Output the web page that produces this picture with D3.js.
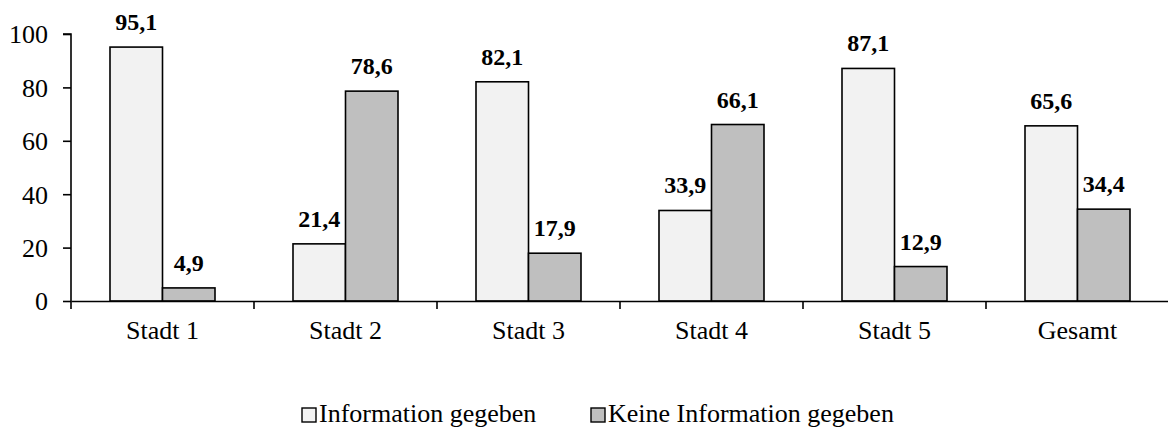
<!DOCTYPE html>
<html>
<head>
<meta charset="utf-8">
<script src="https://cdn.jsdelivr.net/npm/d3@7"></script>
<style>
  body { margin: 0; background: #fff; }
  svg text { font-family: "Liberation Serif", "Times New Roman", serif !important; fill: #000; }
</style>
</head>
<body>
<svg></svg>
<script>
const categories = ["Stadt 1", "Stadt 2", "Stadt 3", "Stadt 4", "Stadt 5", "Gesamt"];
const seriesNames = ["Information gegeben", "Keine Information gegeben"];
const infoGiven = [95.1, 21.4, 82.1, 33.9, 87.1, 65.6];
const noInfo = [4.9, 78.6, 17.9, 66.1, 12.9, 34.4];
const yTicks = [0, 20, 40, 60, 80, 100];
const colors = ["#f2f2f2", "#bfbfbf"];

const width = 1168;
const height = 428;

const svg = d3.select("svg").attr("width", width).attr("height", height);

const margin = { left: 71, right: -1, top: 34, bottom: 127 };

const x = d3.scaleBand()
  .domain(categories)
  .range([margin.left, width - margin.right])
  .paddingInner(0)
  .paddingOuter(0);

const y = d3.scaleLinear()
  .domain([0, 100])
  .range([height - margin.bottom, margin.top]);

const barW = 52.5;
const fmt = v => v.toFixed(1).replace(".", ",");

const rows = categories.map((c, i) => ({ cat: c, vals: [infoGiven[i], noInfo[i]] }));

const groups = svg.selectAll(".grp")
  .data(rows)
  .enter()
  .append("g")
  .attr("class", "grp")
  .attr("transform", d => `translate(${x(d.cat) + x.bandwidth() / 2},0)`);

groups.selectAll("rect")
  .data(d => d.vals)
  .enter()
  .append("rect")
  .attr("x", (d, j) => j === 0 ? -barW : 0)
  .attr("y", d => y(d))
  .attr("width", barW)
  .attr("height", d => y(0) - y(d))
  .style("fill", (d, j) => colors[j])
  .style("stroke", "#000")
  .style("stroke-width", 1.6);

groups.selectAll("text")
  .data(d => d.vals)
  .enter()
  .append("text")
  .attr("x", (d, j) => j === 0 ? -barW / 2 : barW / 2)
  .attr("y", d => y(d) - 17)
  .attr("text-anchor", "middle")
  .style("font-size", "24px")
  .style("font-weight", "bold")
  .text(d => fmt(d));

// y axis
const yAxis = svg.append("g")
  .attr("transform", `translate(${margin.left},0)`)
  .call(d3.axisLeft(y).tickValues(yTicks).tickSize(8).tickPadding(15));
yAxis.select(".domain").attr("d", `M-8,${y(100)}H0V${y(0)}`).style("stroke-width", 1.6);
yAxis.selectAll(".tick line").style("stroke-width", 1.6);
yAxis.selectAll(".tick text")
  .style("font-size", "26px")
  .attr("dy", "0.34em");

// x axis
const xAxis = svg.append("g")
  .attr("transform", `translate(0,${y(0)})`)
  .call(d3.axisBottom(x).tickSize(0).tickPadding(20));
xAxis.select(".domain").style("stroke-width", 1.6);
xAxis.selectAll(".tick text")
  .style("font-size", "26px");

// separators between categories
svg.append("g")
  .selectAll("line")
  .data(categories)
  .enter()
  .append("line")
  .attr("x1", d => x(d))
  .attr("x2", d => x(d))
  .attr("y1", y(0))
  .attr("y2", y(0) + 8)
  .style("stroke", "#000")
  .style("stroke-width", 1.6);

// legend
const legendX = [302, 591];
const legend = svg.append("g")
  .selectAll("g")
  .data(seriesNames)
  .enter()
  .append("g")
  .attr("transform", (d, i) => `translate(${legendX[i]},408)`);

legend.append("rect")
  .attr("width", 14)
  .attr("height", 14)
  .style("fill", (d, i) => colors[i])
  .style("stroke", "#000")
  .style("stroke-width", 1.4);

legend.append("text")
  .attr("x", 17)
  .attr("y", 14)
  .style("font-size", "26px")
  .text(d => d);
</script>
</body>
</html>
